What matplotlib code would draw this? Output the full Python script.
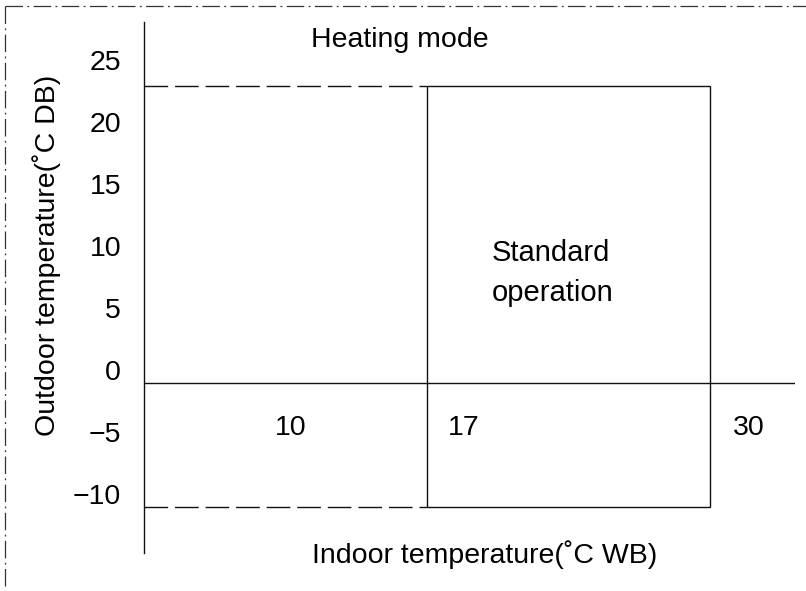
import matplotlib.pyplot as plt
from matplotlib.lines import Line2D
from matplotlib.patches import Rectangle

plt.rcParams["font.family"] = ["Liberation Sans", "DejaVu Sans"]

# operating range, heating mode
indoor_min, indoor_max = 17, 30      # degC WB
outdoor_min, outdoor_max = -10, 24   # degC DB

ytick_vals = [25, 20, 15, 10, 5, 0, -5, -10]
ytick_labels = ["25", "20", "15", "10", "5", "0", "\u22125", "\u221210"]
xtick_vals = [10, 17, 30]
xtick_labels = ["10", "17", "30"]
xtick_dx = [0, 21, 23]  # nudge right of the boundary lines, px

ink = "#111111"
fs = 20.5

fig = plt.figure(figsize=(8.06, 5.91), dpi=100)
ax = fig.add_axes([144 / 806, 38 / 591, 651 / 806, 531 / 591])
ax.set_xlim(4, 33.9)
ax.set_ylim(-13.7, 29.15)

for s in ["top", "right", "bottom"]:
    ax.spines[s].set_visible(False)
ax.spines["left"].set_color(ink)
ax.spines["left"].set_linewidth(1.0)
ax.set_xticks([])
ax.set_yticks([])

# zero line across the chart
ax.axhline(0, color=ink, lw=1.0)

# dashed limits to the left of the box
ax.hlines([outdoor_max, outdoor_min], ax.get_xlim()[0], indoor_min,
          colors=ink, lw=1.0, linestyles=(0, (17, 5)))

# standard operation box
ax.add_patch(Rectangle((indoor_min, outdoor_min), indoor_max - indoor_min,
                       outdoor_max - outdoor_min, fill=False, ec=ink, lw=1.0))

ax.text(19.95, 8.9, "Standard\noperation", ha="left", va="center",
        fontsize=21, linespacing=1.55)

# y labels sit a little above their values
for v, lab in zip(ytick_vals, ytick_labels):
    ax.annotate(lab, xy=(0, v), xycoords=("axes fraction", "data"),
                xytext=(-23, 10), textcoords="offset pixels",
                ha="right", va="center", fontsize=fs)

for v, lab, dx in zip(xtick_vals, xtick_labels, xtick_dx):
    ax.annotate(lab, xy=(v, 0), xycoords="data",
                xytext=(dx, -45), textcoords="offset pixels",
                ha="left", va="center", fontsize=fs)

fig.text(311 / 806, 1 - 47 / 591, "Heating mode", ha="left", va="baseline", fontsize=fs)
fig.text(312 / 806, 1 - 563 / 591, "Indoor temperature(\u02daC WB)",
         ha="left", va="baseline", fontsize=fs)
fig.text(47 / 806, 1 - 255 / 591, "Outdoor temperature(\u02daC DB)",
         rotation=90, ha="center", va="center", fontsize=fs)

# dash-dot frame along the top and left edges
frame = (0, (14, 3.5, 1.5, 3.5))
fig.add_artist(Line2D([5 / 806, 1], [1 - 6 / 591, 1 - 6 / 591],
                      transform=fig.transFigure, color="#333333", lw=0.9, linestyle=frame))
fig.add_artist(Line2D([5 / 806, 5 / 806], [1 - 6 / 591, 0],
                      transform=fig.transFigure, color="#333333", lw=0.9, linestyle=frame))

fig.savefig("out.png", dpi=100)
